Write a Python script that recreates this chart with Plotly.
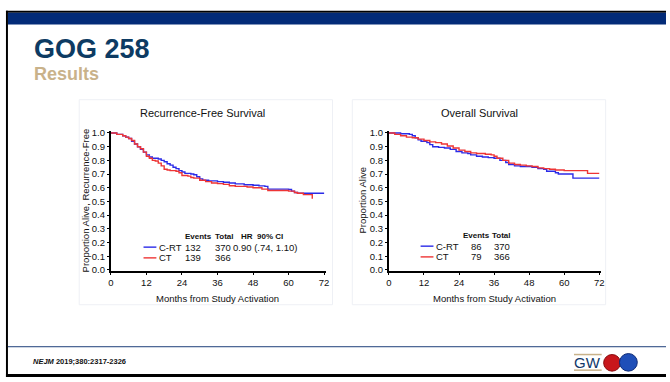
import plotly.graph_objects as go

# ---- data -------------------------------------------------------------
W, H = 670, 382

rfs_crt_months = [0, 2, 4, 5, 6, 7, 8, 9, 10, 11, 12, 13, 14, 16, 17, 18, 19, 20, 21, 22, 23, 24,
                  25, 27, 28, 29, 30, 31, 33, 36, 38, 40, 42, 45, 48, 50, 52, 53, 58, 60, 61, 62, 63, 72]
rfs_crt_surv = [1.0, 0.99, 0.98, 0.97, 0.96, 0.94, 0.92, 0.90, 0.88, 0.86, 0.84, 0.825, 0.815, 0.81,
                0.80, 0.79, 0.775, 0.765, 0.75, 0.74, 0.725, 0.715, 0.705, 0.70, 0.695, 0.68, 0.665,
                0.655, 0.65, 0.645, 0.64, 0.635, 0.628, 0.622, 0.618, 0.614, 0.61, 0.59, 0.59, 0.587,
                0.575, 0.565, 0.56, 0.56]

rfs_ct_months = [0, 2, 4, 5, 6, 7, 8, 9, 10, 11, 12, 13, 14, 15, 16, 17, 18, 19, 20, 22, 23, 24, 26,
                 27, 28, 30, 32, 34, 36, 38, 40, 42, 46, 48, 51, 53, 58, 60, 62, 63, 65, 68, 68]
rfs_ct_surv = [1.0, 0.99, 0.98, 0.97, 0.96, 0.945, 0.92, 0.90, 0.885, 0.86, 0.83, 0.815, 0.80, 0.795,
               0.78, 0.76, 0.735, 0.73, 0.725, 0.72, 0.71, 0.69, 0.685, 0.675, 0.67, 0.655, 0.645,
               0.635, 0.63, 0.625, 0.615, 0.61, 0.605, 0.60, 0.59, 0.58, 0.58, 0.575, 0.565, 0.56,
               0.55, 0.55, 0.52]

os_crt_months = [0, 4, 7, 8, 9, 10, 11, 13, 14, 15, 17, 19, 21, 23, 25, 27, 28, 30, 32, 34, 36, 38,
                 40, 41, 43, 45, 49, 51, 53, 54, 57, 58, 63, 72]
os_crt_surv = [1.0, 0.995, 0.99, 0.98, 0.965, 0.95, 0.94, 0.93, 0.915, 0.90, 0.895, 0.89, 0.88,
               0.865, 0.855, 0.85, 0.84, 0.83, 0.825, 0.82, 0.815, 0.80, 0.785, 0.77, 0.76, 0.755,
               0.75, 0.74, 0.735, 0.72, 0.71, 0.70, 0.67, 0.67]

os_ct_months = [0, 2, 4, 6, 8, 10, 12, 14, 16, 18, 20, 22, 24, 26, 28, 30, 33, 35, 36, 37, 39, 41,
                43, 45, 47, 49, 51, 53, 55, 57, 60, 68, 72]
os_ct_surv = [1.0, 0.99, 0.98, 0.97, 0.965, 0.955, 0.945, 0.935, 0.93, 0.92, 0.905, 0.89, 0.875,
              0.865, 0.855, 0.85, 0.845, 0.84, 0.83, 0.815, 0.80, 0.78, 0.77, 0.765, 0.76, 0.755,
              0.745, 0.74, 0.735, 0.73, 0.725, 0.705, 0.705]

x_ticks = [0, 12, 24, 36, 48, 60, 72]
y_ticks = [0.0, 0.1, 0.2, 0.3, 0.4, 0.5, 0.6, 0.7, 0.8, 0.9, 1.0]
y_tick_text = [f"{v:.1f}" for v in y_ticks]

rfs_table_header = ["Events", "Total", "HR", "90% CI"]
rfs_table_rows = [["C-RT", "132", "370", "0.90 (.74, 1.10)"], ["CT", "139", "366", ""]]
os_table_header = ["Events", "Total"]
os_table_rows = [["C-RT", "86", "370"], ["CT", "79", "366"]]

BLUE = "#2b2be8"
RED = "#ee3535"
FONT = "Liberation Sans, Arial, sans-serif"


def px(x):
    return x / W


def py(y):
    return 1 - y / H


fig = go.Figure()

fig.add_trace(go.Scatter(x=rfs_crt_months, y=rfs_crt_surv, mode="lines", line_shape="hv",
                         line=dict(color=BLUE, width=1.4), xaxis="x", yaxis="y"))
fig.add_trace(go.Scatter(x=rfs_ct_months, y=rfs_ct_surv, mode="lines", line_shape="hv",
                         line=dict(color=RED, width=1.4), xaxis="x", yaxis="y"))
fig.add_trace(go.Scatter(x=os_crt_months, y=os_crt_surv, mode="lines", line_shape="hv",
                         line=dict(color=BLUE, width=1.4), xaxis="x2", yaxis="y2"))
fig.add_trace(go.Scatter(x=os_ct_months, y=os_ct_surv, mode="lines", line_shape="hv",
                         line=dict(color=RED, width=1.4), xaxis="x2", yaxis="y2"))

axis_common = dict(showline=True, linecolor="black", linewidth=2, showgrid=False, zeroline=False,
                   ticks="outside", ticklen=2, tickwidth=1, tickcolor="black",
                   tickfont=dict(family=FONT, size=9.5, color="#111"))
xa = dict(axis_common, range=[0, 72.5], tickvals=x_ticks)
ya = dict(axis_common, range=[-0.005, 1.015], tickvals=y_ticks, ticktext=y_tick_text)

fig.update_layout(
    width=W, height=H, margin=dict(l=0, r=0, t=0, b=0),
    paper_bgcolor="white", plot_bgcolor="white", showlegend=False,
    xaxis=dict(xa, domain=[px(109), px(326)], anchor="y"),
    yaxis=dict(ya, domain=[py(273), py(130)], anchor="x"),
    xaxis2=dict(xa, domain=[px(390), px(604)], anchor="y2"),
    yaxis2=dict(ya, domain=[py(273), py(130)], anchor="x2"),
)

shapes = []
ann = []

# slide frame: black top and left border, navy header band, footer rule
shapes.append(dict(type="rect", xref="paper", yref="paper", x0=px(3), x1=px(670), y0=py(9), y1=py(7),
                   fillcolor="black", line_width=0, layer="above"))
shapes.append(dict(type="rect", xref="paper", yref="paper", x0=px(5), x1=px(670), y0=py(21), y1=py(9),
                   fillcolor="#032b78", line_width=0, layer="above"))
shapes.append(dict(type="rect", xref="paper", yref="paper", x0=px(3), x1=px(5), y0=py(382), y1=py(7),
                   fillcolor="black", line_width=0, layer="above"))
shapes.append(dict(type="rect", xref="paper", yref="paper", x0=px(3), x1=px(670), y0=py(382), y1=py(379),
                   fillcolor="black", line_width=0, layer="above"))
shapes.append(dict(type="line", xref="paper", yref="paper", x0=px(5), x1=px(670), y0=py(351), y1=py(351),
                   line=dict(color="#1f3f7a", width=1)))

# faint panel frames around the two charts
for x0, x1 in [(77, 333), (353, 609)]:
    shapes.append(dict(type="rect", xref="paper", yref="paper", x0=px(x0), x1=px(x1),
                       y0=py(308), y1=py(98), line=dict(color="#eef0f5", width=1), layer="below"))

# slide titles
ann.append(dict(text="<b>GOG 258</b>", x=px(29), y=py(46), xref="paper", yref="paper",
                xanchor="left", yanchor="middle", showarrow=False,
                font=dict(family=FONT, size=27, color="#0d3b63")))
ann.append(dict(text="<b>Results</b>", x=px(29), y=py(72), xref="paper", yref="paper",
                xanchor="left", yanchor="middle", showarrow=False,
                font=dict(family=FONT, size=18, color="#c9b28a")))


def text_at(t, x, y, size=9.5, bold=False, anchor="left", angle=0):
    ann.append(dict(text=f"<b>{t}</b>" if bold else t, x=px(x), y=py(y), xref="paper", yref="paper",
                    xanchor=anchor, yanchor="middle", showarrow=False, textangle=angle,
                    font=dict(family=FONT, size=size, color="#111")))


# chart titles and axis titles
text_at("Recurrence-Free Survival", 202, 112, size=11, anchor="center")
text_at("Overall Survival", 482, 112, size=11, anchor="center")
text_at("Months from Study Activation", 217, 302, size=9.5, anchor="center")
text_at("Months from Study Activation", 497, 302, size=9.5, anchor="center")
text_at("Proportion Alive, Recurrence-Free", 83, 201, size=9.5, anchor="center", angle=-90)
text_at("Proportion Alive", 363, 201, size=9.5, anchor="center", angle=-90)

# inset event tables
rfs_head_x = [182, 212, 238, 255]
for t, x in zip(rfs_table_header, rfs_head_x):
    text_at(t, x, 238, size=8, bold=True)
rfs_col_x = [156, 182, 212, 230]
for row, y, col in zip(rfs_table_rows, [249, 260], [BLUE, RED]):
    shapes.append(dict(type="line", xref="paper", yref="paper", x0=px(142), x1=px(155),
                       y0=py(y), y1=py(y), line=dict(color=col, width=1.4)))
    for t, x in zip(row, rfs_col_x):
        if t:
            text_at(t, x, y)

os_head_x = [463, 492]
for t, x in zip(os_table_header, os_head_x):
    text_at(t, x, 237, size=8, bold=True)
os_col_x = [436, 471, 494]
for row, y, col in zip(os_table_rows, [248, 259], [BLUE, RED]):
    shapes.append(dict(type="line", xref="paper", yref="paper", x0=px(422), x1=px(435),
                       y0=py(y), y1=py(y), line=dict(color=col, width=1.4)))
    for t, x in zip(row, os_col_x):
        text_at(t, x, y)

# footer citation
ann.append(dict(text="<b><i>NEJM</i> 2019;380:2317-2326</b>", x=px(28), y=py(366), xref="paper",
                yref="paper", xanchor="left", yanchor="middle", showarrow=False,
                font=dict(family=FONT, size=7.5, color="#111")))

# GW logo
shapes.append(dict(type="line", xref="paper", yref="paper", x0=px(577), x1=px(605), y0=py(359), y1=py(359),
                   line=dict(color="#c9b28a", width=1.5)))
shapes.append(dict(type="line", xref="paper", yref="paper", x0=px(577), x1=px(605), y0=py(375), y1=py(375),
                   line=dict(color="#c9b28a", width=1.5)))
ann.append(dict(text="GW", x=px(591), y=py(367.5), xref="paper", yref="paper", xanchor="center",
                yanchor="middle", showarrow=False, font=dict(family=FONT, size=15, color="#10386a")))
shapes.append(dict(type="circle", xref="paper", yref="paper", x0=px(607), x1=px(624), y0=py(376), y1=py(359),
                   fillcolor="#c8171c", line=dict(color="#8a0d10", width=1)))
shapes.append(dict(type="circle", xref="paper", yref="paper", x0=px(623), x1=px(641), y0=py(376), y1=py(358),
                   fillcolor="#1f4fb8", line=dict(color="#0d2a78", width=1)))

fig.update_layout(shapes=shapes, annotations=ann)
fig.write_html("out.html")
